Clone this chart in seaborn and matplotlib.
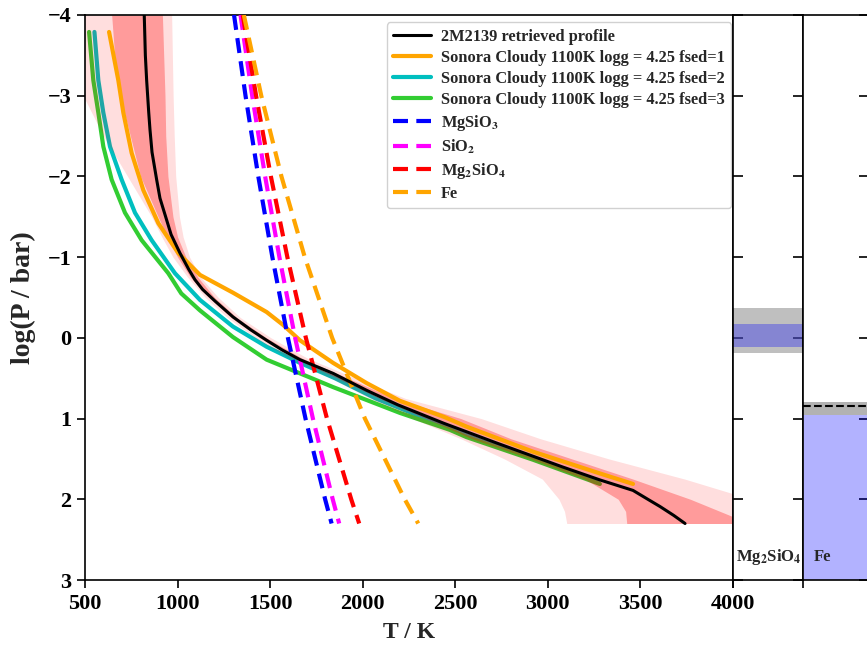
import matplotlib
matplotlib.use("Agg")
import matplotlib.pyplot as plt
import seaborn as sns

# ---- retrieved profile (log P in bar, T in K) ----
p_prof = [-4.0, -3.5, -3.19, -2.8, -2.58, -2.3, -1.96, -1.73, -1.46, -1.28, -1.05,
          -0.85, -0.72, -0.6, -0.45, -0.26, -0.1, 0.03, 0.15, 0.27, 0.44, 0.65,
          0.83, 1.06, 1.18, 1.3, 1.45, 1.6, 1.76, 1.89, 2.0, 2.09, 2.2, 2.3]
t_prof = [820, 826, 833, 844, 851, 862, 887, 905, 941, 965, 1013,
          1060, 1094, 1135, 1205, 1299, 1395, 1481, 1565, 1661, 1840, 2021,
          2190, 2440, 2580, 2720, 2900, 3080, 3281, 3460, 3540, 3606, 3680, 3741]

# uncertainty envelopes
p_band = [-4.0, -3.5, -3.0, -2.5, -2.0, -1.5, -1.25, -1.0, -0.75, -0.5, -0.25, 0.0,
          0.25, 0.5, 0.75, 1.0, 1.25, 1.5, 1.75, 2.0, 2.15, 2.3]
t_2sig_lo = [470, 470, 490, 600, 730, 860, 915, 975, 1055, 1150, 1270, 1420,
             1600, 1830, 2040, 2270, 2530, 2765, 2970, 3060, 3090, 3102]
t_1sig_lo = [644, 660, 690, 745, 800, 895, 945, 1000, 1070, 1170, 1290, 1445,
             1630, 1865, 2090, 2340, 2590, 2910, 3200, 3380, 3420, 3426]
t_1sig_hi = [918, 925, 932, 936, 948, 975, 1000, 1045, 1110, 1200, 1320, 1480,
             1670, 1920, 2170, 2530, 2800, 3130, 3460, 3770, 3930, 4090]
t_2sig_hi = [968, 972, 976, 982, 990, 1010, 1030, 1065, 1125, 1220, 1340, 1505,
             1700, 1960, 2230, 2640, 2960, 3330, 3740, 4100, 4300, 4500]

# ---- Sonora Cloudy 1100K, logg = 4.25 ----
p_fsed1 = [-3.79, -3.19, -2.79, -2.29, -1.83, -1.42, -1.05, -0.78, -0.56, -0.32, -0.16,
           0.03, 0.31, 0.56, 0.78, 0.98, 1.10, 1.41, 1.68, 1.81]
t_fsed1 = [630, 680, 707, 752, 815, 896, 1004, 1121, 1299, 1481, 1570,
           1661, 1840, 2021, 2201, 2440, 2561, 2920, 3281, 3460]

p_fsed2 = [-3.79, -3.19, -2.79, -2.37, -1.96, -1.55, -1.21, -0.80, -0.47, -0.14, 0.11,
           0.31, 0.5, 0.75, 1.0, 1.25, 1.5, 1.78]
t_fsed2 = [551, 572, 599, 635, 698, 770, 860, 986, 1121, 1299, 1481,
           1661, 1850, 2070, 2340, 2610, 2920, 3270]

p_fsed3 = [-3.79, -3.19, -2.79, -2.37, -1.96, -1.55, -1.21, -0.80, -0.55, -0.34, -0.01,
           0.27, 0.44, 0.61, 0.77, 0.93, 1.14, 1.23, 1.51, 1.81]
t_fsed3 = [522, 545, 572, 599, 644, 716, 806, 950, 1020, 1121, 1299,
           1481, 1661, 1840, 2021, 2201, 2471, 2561, 2920, 3281]

# ---- condensation curves ----
p_cond = [-4.0, -3.0, -2.0, -1.0, 0.0, 1.0, 2.0, 2.3]
t_mgsio3 = [1305, 1367, 1436, 1512, 1596, 1691, 1797, 1832]
t_sio2 = [1340, 1403, 1473, 1550, 1635, 1731, 1838, 1873]
t_mg2sio4 = [1352, 1424, 1504, 1593, 1693, 1807, 1938, 1981]
t_fe = [1358, 1452, 1561, 1687, 1835, 2012, 2227, 2300]

# ---- cloud panels (log P ranges) ----
mg2sio4_top_band = (-0.37, 0.19)
mg2sio4_core_band = (-0.17, 0.11)
fe_top_band = (0.80, 0.96)
fe_deck = (0.96, 3.0)
fe_top_line = 0.84

legend_order = [
    "2M2139 retrieved profile",
    "Sonora Cloudy 1100K logg = 4.25 fsed=1",
    "Sonora Cloudy 1100K logg = 4.25 fsed=2",
    "Sonora Cloudy 1100K logg = 4.25 fsed=3",
    "MgSiO$_3$",
    "SiO$_2$",
    "Mg$_2$SiO$_4$",
    "Fe",
]

sns.set_theme(style="ticks")
plt.rcParams["font.family"] = ["Liberation Serif", "DejaVu Serif"]
plt.rcParams["font.weight"] = "bold"
plt.rcParams["mathtext.fontset"] = "stix"
plt.rcParams["axes.edgecolor"] = "black"
plt.rcParams["axes.linewidth"] = 1.2
plt.rcParams["xtick.color"] = "black"
plt.rcParams["ytick.color"] = "black"

W, H = 867, 648
fig = plt.figure(figsize=(W / 100, H / 100), dpi=100)
bottom = 1 - 580 / H
height = 565 / H
ax = fig.add_axes([85 / W, bottom, 648 / W, height])
ax_mg = fig.add_axes([733 / W, bottom, 70 / W, height])
ax_fe = fig.add_axes([803 / W, bottom, 66 / W, height])

# envelopes
ax.fill_betweenx(p_band, t_2sig_lo, t_2sig_hi, color="red", alpha=0.13, lw=0, zorder=2)
ax.fill_betweenx(p_band, t_1sig_lo, t_1sig_hi, color="red", alpha=0.30, lw=0, zorder=2.1)

# model profiles
sns.lineplot(x=t_fsed2, y=p_fsed2, sort=False, estimator=None, ax=ax, color="#00BFBF",
             lw=3.0, label=legend_order[2], zorder=1.5)
sns.lineplot(x=t_fsed3, y=p_fsed3, sort=False, estimator=None, ax=ax, color="#32CD32",
             lw=3.0, label=legend_order[3], zorder=1.6)
sns.lineplot(x=t_fsed1, y=p_fsed1, sort=False, estimator=None, ax=ax, color="#FFA500",
             lw=3.0, label=legend_order[1], zorder=3)

# condensation curves
dash = (0, (3.6, 2.0))
for t_c, col, lab in [(t_mgsio3, "#0000FF", legend_order[4]),
                      (t_sio2, "#FF00FF", legend_order[5]),
                      (t_mg2sio4, "#FF0000", legend_order[6]),
                      (t_fe, "#FFA500", legend_order[7])]:
    sns.lineplot(x=t_c, y=p_cond, sort=False, estimator=None, ax=ax, color=col,
                 lw=3.0, linestyle=dash, label=lab, zorder=3.5)

# retrieved profile on top
sns.lineplot(x=t_prof, y=p_prof, sort=False, estimator=None, ax=ax, color="black",
             lw=2.2, label=legend_order[0], zorder=4)

ax.set_xlim(500, 4000)
ax.set_ylim(3, -4)
ax.set_xticks([500, 1000, 1500, 2000, 2500, 3000, 3500, 4000])
ax.set_yticks(range(-4, 4))
ax.set_yticklabels(["\u22124", "\u22123", "\u22122", "\u22121", "0", "1", "2", "3"])
ax.tick_params(direction="out", length=6, width=1.2, labelsize=16, pad=4)
for lbl in ax.get_xticklabels() + ax.get_yticklabels():
    lbl.set_fontweight("bold")
ax.set_xlabel("T / K", fontsize=17, fontweight="bold", labelpad=6)
ax.set_ylabel("log(P / bar)", fontsize=20, fontweight="bold", labelpad=8)

handles, labels = ax.get_legend_handles_labels()
lookup = dict(zip(labels, handles))
ax.legend([lookup[k] for k in legend_order], legend_order, loc="upper right",
          bbox_to_anchor=(1.0, 0.99), prop={"weight": "bold", "size": 11.8},
          handlelength=2.3, handletextpad=0.6, borderaxespad=0.1,
          labelspacing=0.3, framealpha=0.9)

# cloud panels
for a in (ax_mg, ax_fe):
    a.set_xlim(0, 1)
    a.set_ylim(3, -4)
    a.set_yticks(range(-4, 4))
    a.set_xticks([0])
    a.set_xticklabels([])
    a.tick_params(axis="x", direction="out", length=6, width=1.2)
    a.tick_params(axis="y", direction="in", length=7, width=1.2, labelleft=False)

ax_mg.tick_params(axis="y", left=True, right=True)
ax_fe.tick_params(axis="y", left=False, right=True)

ax_mg.axhspan(*mg2sio4_top_band, color="gray", alpha=0.5, lw=0)
ax_mg.axhspan(*mg2sio4_core_band, color="blue", alpha=0.3, lw=0)
ax_mg.text(0.05, 2.72, "Mg$_2$SiO$_4$", fontsize=12, fontweight="bold", va="center", ha="left")

ax_fe.axhspan(*fe_top_band, color="gray", alpha=0.6, lw=0)
ax_fe.axhspan(*fe_deck, color="blue", alpha=0.3, lw=0)
ax_fe.axhline(fe_top_line, color="black", ls="--", lw=1.5)
ax_fe.text(0.17, 2.72, "Fe", fontsize=12, fontweight="bold", va="center", ha="left")

fig.savefig("out.png", dpi=100)
